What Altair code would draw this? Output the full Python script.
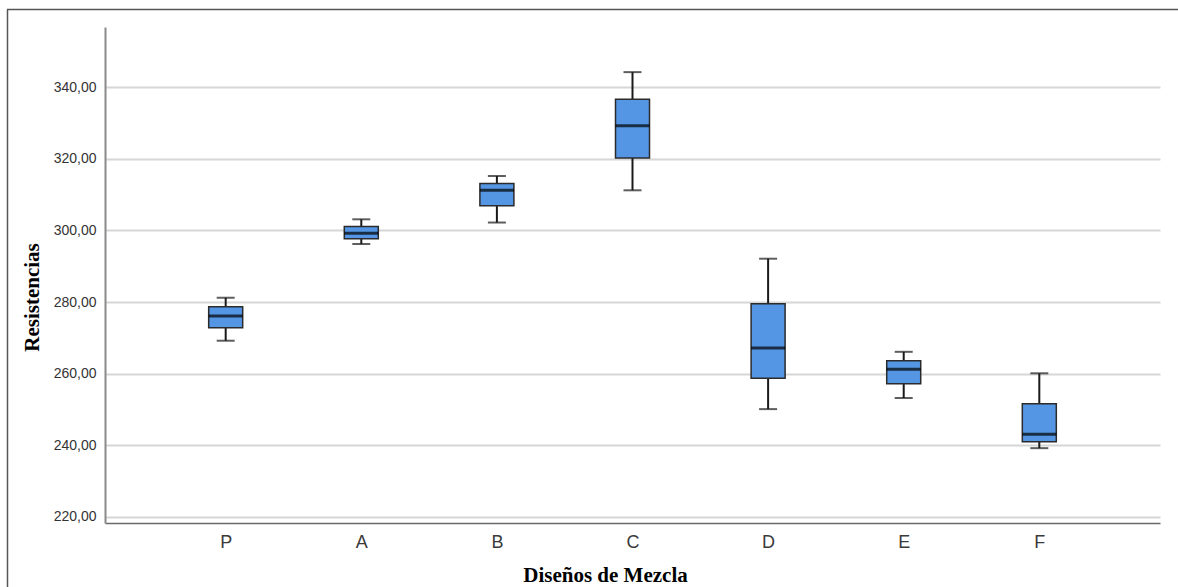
import altair as alt
import pandas as pd

categories = ["P", "A", "B", "C", "D", "E", "F"]
mins = [269.2, 296.2, 302.2, 311.2, 250.1, 253.2, 239.2]
q1s = [272.8, 297.7, 306.9, 320.2, 258.7, 257.2, 241.0]
medians = [276.1, 299.2, 311.2, 329.2, 267.2, 261.2, 243.1]
q3s = [278.7, 301.1, 313.1, 336.6, 279.5, 263.6, 251.6]
maxs = [281.2, 303.1, 315.2, 344.2, 292.1, 266.1, 260.1]
y_ticks = [220, 240, 260, 280, 300, 320, 340]

df = pd.DataFrame({
    "cat": categories, "min": mins, "q1": q1s, "med": medians, "q3": q3s, "max": maxs
})

x_enc = alt.X(
    "cat:N",
    sort=categories,
    scale=alt.Scale(type="point", padding=0.89),
    axis=alt.Axis(
        title="Diseños de Mezcla",
        titleFont="Liberation Serif",
        titleFontSize=21,
        titleFontWeight="bold",
        titleColor="#000000",
        titleX=500,
        titleY=58,
        titleBaseline="alphabetic",
        labelAngle=0,
        labelFont="Liberation Sans",
        labelFontSize=18,
        labelColor="#3a3a3a",
        labelPadding=10,
        ticks=False,
        grid=False,
        domainColor="#6a6a6a",
        domainWidth=1.5,
    ),
)

y_scale = alt.Scale(domain=[218.3, 356.8], nice=False, zero=False)
y_axis = alt.Axis(
    title="Resistencias",
    titleFont="Liberation Serif",
    titleFontSize=21,
    titleFontWeight="bold",
    titleColor="#000000",
    titleX=-73,
    titleY=270,
    titleAlign="center",
    titleBaseline="middle",
    values=y_ticks,
    labelExpr="replace(format(datum.value, '.2f'), '.', ',')",
    labelFont="Liberation Sans",
    labelFontSize=14,
    labelColor="#333333",
    labelPadding=9,
    ticks=False,
    grid=True,
    gridColor="#d6d6d6",
    gridWidth=2,
    domainColor="#8a8a8a",
    domainWidth=2,
)

base = alt.Chart(df)

whisker = base.mark_rule(color="#1a1a1a", strokeWidth=2).encode(
    x=x_enc,
    y=alt.Y("min:Q", scale=y_scale, axis=y_axis),
    y2="max:Q",
)

box = base.mark_bar(size=34, color="#5596e4", stroke="#2b2b2b", strokeWidth=1.5).encode(
    x=x_enc,
    y=alt.Y("q1:Q", scale=y_scale),
    y2="q3:Q",
)

median = base.mark_tick(size=34, thickness=3, color="#000000").encode(
    x=x_enc, y=alt.Y("med:Q", scale=y_scale)
)

cap_low = base.mark_tick(size=18, thickness=2, color="#1a1a1a").encode(
    x=x_enc, y=alt.Y("min:Q", scale=y_scale)
)
cap_high = base.mark_tick(size=18, thickness=2, color="#1a1a1a").encode(
    x=x_enc, y=alt.Y("max:Q", scale=y_scale)
)

frame_df = pd.DataFrame({"k": [0]})
frame_top = alt.Chart(frame_df).mark_rule(color="#555555", strokeWidth=1.5).encode(
    x=alt.value(-98), x2=alt.value(1073), y=alt.value(-17.5)
)
frame_left = alt.Chart(frame_df).mark_rule(color="#555555", strokeWidth=1.5).encode(
    x=alt.value(-97.5), y=alt.value(-17.5), y2=alt.value(570)
)

chart = alt.layer(whisker, box, median, cap_low, cap_high, frame_top, frame_left).properties(
    width=1055,
    height=496,
    autosize=alt.AutoSizeParams(type="none"),
    padding={"left": 105, "top": 27, "right": 18, "bottom": 64},
    background="#ffffff",
).configure_view(stroke=None)

chart.save("out.html", embed_options={"renderer": "svg", "actions": False})
